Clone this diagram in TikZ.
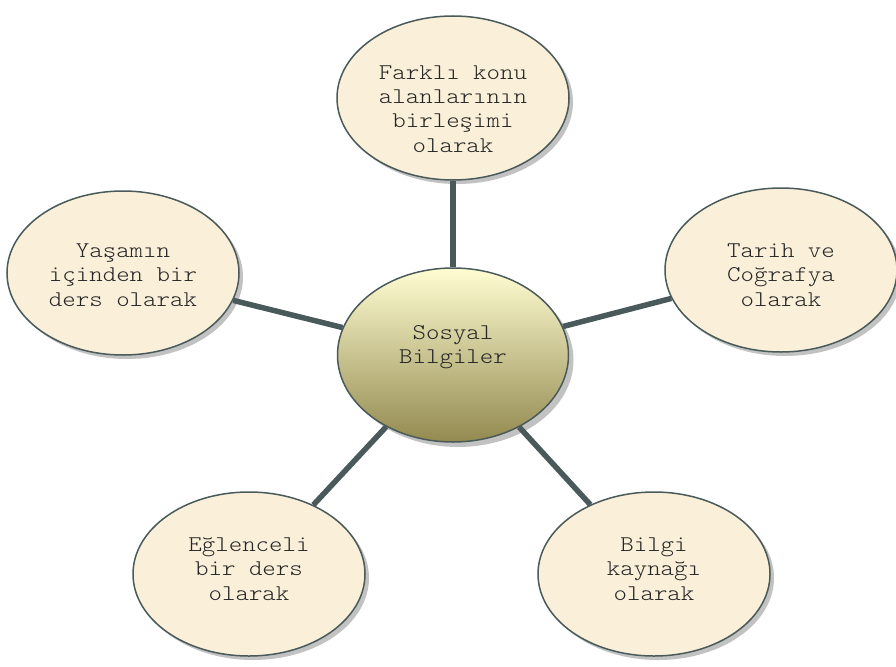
\documentclass[tikz,border=0pt]{standalone}
\usepackage{fontspec}
\newfontfamily\courfont[Extension=.otf,FakeStretch=1.14]{lmmonolt10-regular}
\usetikzlibrary{shapes.geometric,shadows}
\definecolor{edgec}{HTML}{4A5A5A}
\definecolor{cream}{HTML}{FAF0DA}
\definecolor{ctop}{HTML}{FFFDD2}
\definecolor{cbot}{HTML}{938A50}
\begin{document}
\begin{tikzpicture}[x=1pt,y=-1pt,
  bubble/.style={ellipse, draw=edgec, line width=1.5pt, fill=cream,
    minimum width=232pt, minimum height=164pt, inner sep=0pt,
    drop shadow={shadow xshift=4pt, shadow yshift=-4pt, fill=black!40, opacity=0.6}},
  hub/.style={ellipse, draw=edgec, line width=1.5pt, top color=ctop, bottom color=cbot,
    minimum width=231pt, minimum height=174pt, inner sep=0pt,
    drop shadow={shadow xshift=5pt, shadow yshift=-5pt, fill=black!40, opacity=0.6}},
  txt/.style={align=center, inner sep=0pt, font=\courfont\fontsize{22.5}{24.3}\selectfont, text=black!85},
  link/.style={draw=edgec, line width=5.5pt}]
\useasboundingbox (0,0) rectangle (896,666);
\coordinate (pc) at (453,355);
\coordinate (pt) at (453,98);
\coordinate (pl) at (123,273);
\coordinate (pr) at (781,270);
\coordinate (pbl) at (249,574);
\coordinate (pbr) at (654,574);
\node[bubble] (t) at (pt) {};
\node[bubble] (l) at (pl) {};
\node[bubble] (r) at (pr) {};
\node[bubble] (bl) at (pbl) {};
\node[bubble] (br) at (pbr) {};
\node[hub] (c) at (pc) {};
\draw[link] (c) -- (t);
\draw[link] (c) -- (l);
\draw[link] (c) -- (r);
\draw[link] (c) -- (bl);
\draw[link] (c) -- (br);
\node[txt] (tc) at (453,347) {Sosyal\\Bilgiler};
\node[txt] (tt) at (453,109) {Farklı konu\\alanlarının\\birleşimi\\olarak};
\node[txt] (tl) at (123,275) {Yaşamın\\içinden bir\\ders olarak};
\node[txt] (tr) at (781,275) {Tarih ve\\Coğrafya\\olarak};
\node[txt] (tbl) at (249,569) {Eğlenceli\\bir ders\\olarak};
\node[txt] (tbr) at (654,569) {Bilgi\\kaynağı\\olarak};
\end{tikzpicture}
\end{document}
